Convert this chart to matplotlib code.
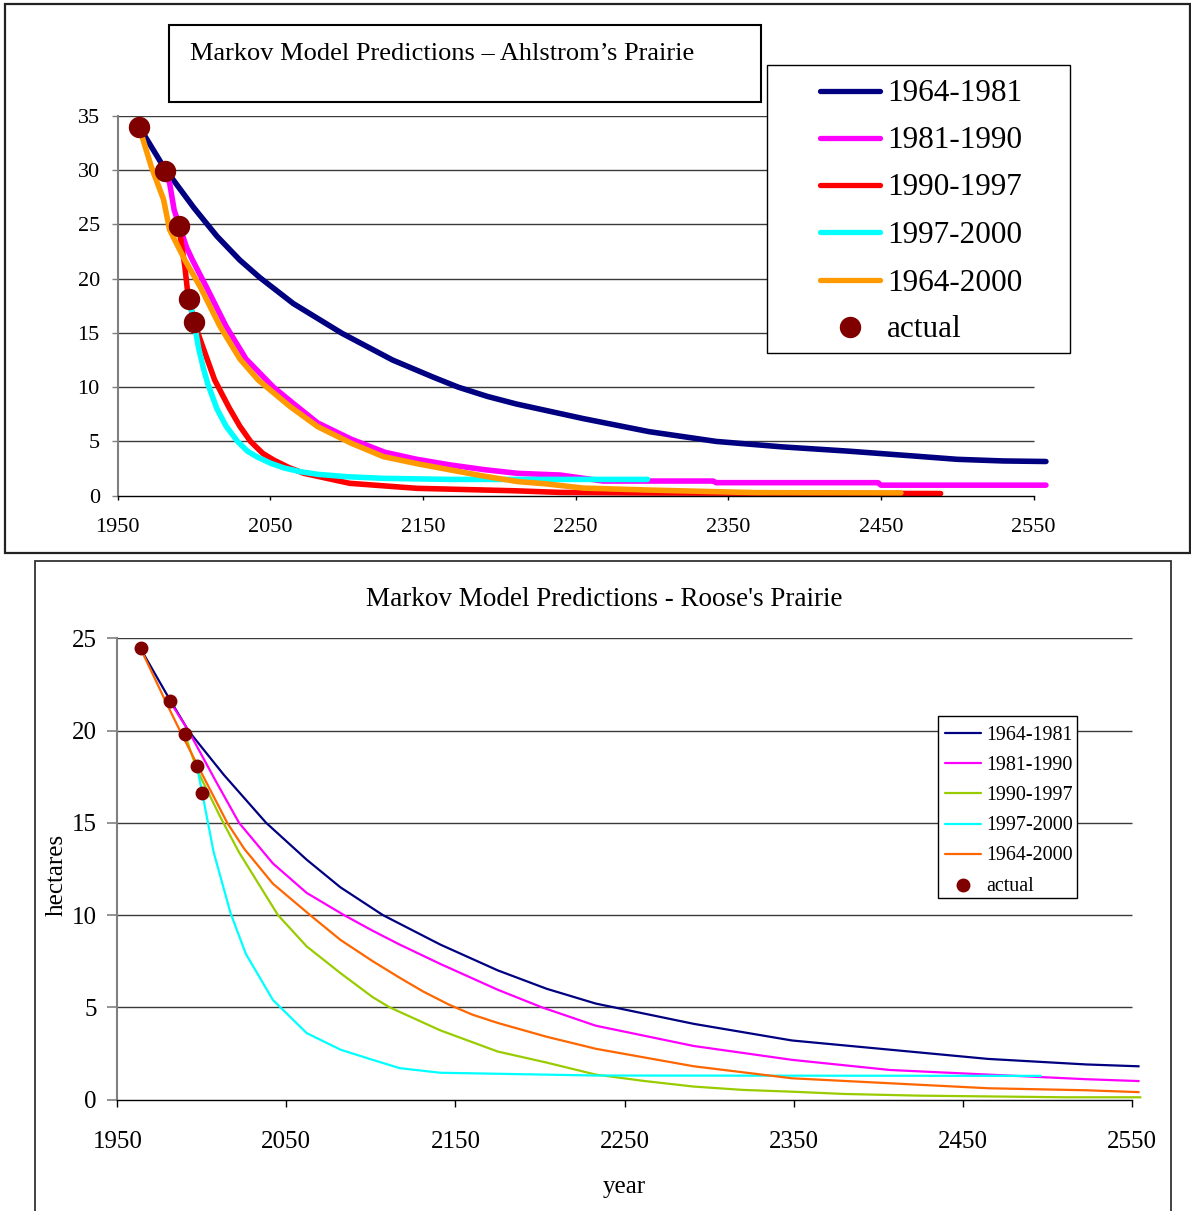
import matplotlib.pyplot as plt
from matplotlib.patches import Rectangle
from matplotlib.lines import Line2D

# Ahlstrom's Prairie: hectares predicted by each transition period
a_series = ["1964-1981", "1981-1990", "1990-1997", "1997-2000", "1964-2000"]
a_colors = ["#000080", "#FF00FF", "#FF0000", "#00FFFF", "#FF9900"]

a_years_6481 = [1964, 1980, 1990, 2000, 2015, 2030, 2043, 2065, 2097, 2130, 2157, 2173,
                2192, 2211, 2255, 2298, 2342, 2385, 2429, 2472, 2500, 2530, 2558]
a_vals_6481 = [34.0, 30.3, 28.4, 26.5, 23.9, 21.7, 20.1, 17.7, 14.95, 12.5, 10.9, 10.0,
               9.15, 8.45, 7.1, 5.9, 5.0, 4.5, 4.1, 3.65, 3.35, 3.2, 3.15]

a_years_8190 = [1981, 1984, 1987, 1995, 1999, 2008, 2021, 2034, 2052, 2065, 2081, 2103,
                2125, 2146, 2168, 2190, 2212, 2240, 2268, 2340, 2342, 2448, 2450, 2558]
a_vals_8190 = [29.9, 28.8, 26.3, 22.9, 21.7, 19.25, 15.6, 12.6, 10.0, 8.5, 6.7, 5.2,
               4.0, 3.35, 2.83, 2.4, 2.06, 1.9, 1.35, 1.35, 1.2, 1.2, 0.97, 0.97]

a_years_9097 = [1990, 1994, 1996, 2000, 2006, 2013.5, 2023, 2030, 2037, 2045, 2052, 2062,
                2072, 2102, 2146, 2211, 2240, 2300, 2489]
a_vals_9097 = [24.8, 21.1, 18.5, 16.0, 13.6, 10.66, 8.1, 6.4, 5.0, 3.9, 3.3, 2.6,
               2.06, 1.14, 0.68, 0.45, 0.3, 0.25, 0.2]

a_years_9700 = [1997, 2000, 2003, 2006, 2009, 2015, 2021, 2028.5, 2035, 2041.6, 2050, 2059,
                2070, 2081, 2100, 2124, 2168, 2297]
a_vals_9700 = [18.1, 16.0, 13.6, 11.8, 10.3, 8.0, 6.4, 5.0, 4.1, 3.55, 3.0, 2.55,
               2.2, 1.97, 1.75, 1.6, 1.5, 1.5]

a_years_6400 = [1964, 1972, 1980, 1984, 1994, 2004, 2017, 2030, 2042, 2063, 2081, 2103,
                2124, 2146, 2168, 2190, 2212, 2230, 2255, 2298, 2368, 2463]
a_vals_6400 = [34.0, 30.3, 27.3, 24.5, 21.7, 19.25, 15.6, 12.6, 10.66, 8.2, 6.36, 4.83,
               3.6, 2.95, 2.37, 1.8, 1.3, 1.1, 0.7, 0.52, 0.28, 0.25]

a_actual_years = [1964, 1981, 1990, 1997, 2000]
a_actual = [34.0, 29.9, 24.8, 18.1, 16.0]

# Roose's Prairie
r_series = ["1964-1981", "1981-1990", "1990-1997", "1997-2000", "1964-2000"]
r_colors = ["#000080", "#FF00FF", "#99CC00", "#00FFFF", "#FF6600"]

r_years_6481 = [1964, 1979, 1992, 2013, 2038, 2062, 2082, 2107, 2141, 2175, 2204, 2233,
                2291, 2349, 2407, 2465, 2523, 2554]
r_vals_6481 = [24.4, 22.0, 20.0, 17.6, 15.0, 13.0, 11.5, 10.0, 8.4, 7.0, 6.0, 5.2,
               4.1, 3.2, 2.7, 2.2, 1.9, 1.8]

r_years_8190 = [1981, 1992, 2008, 2022, 2042, 2062, 2084, 2101, 2117, 2141, 2175, 2201,
                2233, 2291, 2349, 2407, 2465, 2523, 2554]
r_vals_8190 = [21.6, 20.0, 17.3, 15.0, 12.8, 11.2, 10.0, 9.15, 8.4, 7.35, 5.95, 5.0,
               4.0, 2.9, 2.15, 1.6, 1.35, 1.1, 1.0]

r_years_9097 = [1990, 1997, 2011, 2022, 2045, 2062, 2082, 2101, 2111, 2141, 2175, 2204,
                2233, 2262, 2291, 2320, 2350, 2380, 2424, 2511, 2555]
r_vals_9097 = [19.8, 17.9, 15.3, 13.4, 10.0, 8.3, 6.85, 5.55, 5.0, 3.75, 2.6, 2.0,
               1.35, 1.0, 0.7, 0.52, 0.42, 0.3, 0.21, 0.12, 0.12]

r_years_9700 = [1997, 2001, 2007, 2017, 2026, 2042, 2062, 2082, 2101, 2117, 2141, 2233, 2496]
r_vals_9700 = [18.1, 16.25, 13.4, 10.1, 7.9, 5.4, 3.6, 2.7, 2.15, 1.7, 1.45, 1.3, 1.28]

r_years_6400 = [1964, 1979, 1987, 1997, 2015, 2025, 2042, 2064, 2082, 2101, 2117, 2131,
                2146, 2160, 2175, 2204, 2233, 2291, 2349, 2407, 2465, 2523, 2554]
r_vals_6400 = [24.4, 21.5, 20.0, 18.2, 15.0, 13.6, 11.7, 10.0, 8.65, 7.5, 6.6, 5.85,
               5.15, 4.6, 4.15, 3.4, 2.75, 1.8, 1.15, 0.88, 0.61, 0.5, 0.4]

r_actual_years = [1964, 1981, 1990, 1997, 2000]
r_actual = [24.5, 21.6, 19.8, 18.1, 16.6]

x_ticks = list(range(1950, 2551, 100))
actual_color = "#800000"

W, H = 1191, 1211
plt.rcParams['font.family'] = ['Liberation Serif', 'DejaVu Serif']
fig = plt.figure(figsize=(W / 100, H / 100), dpi=100)


def fx(x):
    return x / W


def fy(y):
    return 1 - y / H


def box(x0, y0, x1, y1, lw=1.0, color='black', face='none'):
    fig.add_artist(Rectangle((fx(x0), fy(y1)), (x1 - x0) / W, (y1 - y0) / H,
                             transform=fig.transFigure, facecolor=face,
                             edgecolor=color, lw=lw))


def pixel_legend(frame, hx, tx, rows, labels, colors, fs, lw, ms, text_shift):
    box(*frame, lw=1.0, face='white')
    for y, lab, col in zip(rows, labels, colors):
        fig.add_artist(Line2D([fx(hx[0]), fx(hx[1])], [fy(y), fy(y)], transform=fig.transFigure,
                              color=col, lw=lw, solid_capstyle='round'))
        fig.text(fx(tx), fy(y + text_shift), lab, fontsize=fs, va='center', ha='left')
    cx = (hx[0] + hx[1]) / 2
    fig.add_artist(Line2D([fx(cx)], [fy(rows[-1])], transform=fig.transFigure, marker='o',
                          ms=ms, color=actual_color, lw=0))
    fig.text(fx(tx), fy(rows[-1] + text_shift), "actual", fontsize=fs, va='center', ha='left')


def style_axes(ax, top, grid_color='#3a3a3a'):
    ax.set_facecolor('none')
    for s in ['top', 'right']:
        ax.spines[s].set_visible(False)
    ax.spines['left'].set_color('#808080')
    ax.spines['left'].set_linewidth(1.5)
    ax.spines['bottom'].set_bounds(1950, 2550)
    ax.spines['bottom'].set_linewidth(1.0)
    ax.hlines(range(5, top + 1, 5), 1950, 2550, color=grid_color, lw=1.0, zorder=0.5)
    ax.set_xticks(x_ticks)
    ax.set_yticks(range(0, top + 1, 5))


# ---------------- top chart ----------------
box(5, 4, 1190, 552.7, lw=1.6, color='#222222')
box(169.3, 25, 761, 101.7, lw=1.5)
fig.text(fx(190), fy(54), "Markov Model Predictions \u2013 Ahlstrom\u2019s Prairie",
         fontsize=19, va='center', ha='left')

ax1 = fig.add_axes([fx(117.7), fy(495.7), (1060 - 117.7) / W, 380 / H])
ax1.set_xlim(1950, 1950 + (1060 - 117.7) / 1.5267)
ax1.set_ylim(0, 35)
style_axes(ax1, 35)

a_data = [(a_years_6481, a_vals_6481), (a_years_8190, a_vals_8190), (a_years_9097, a_vals_9097),
          (a_years_9700, a_vals_9700), (a_years_6400, a_vals_6400)]
for (yrs, vals), col in zip(a_data, a_colors):
    ax1.plot(yrs, vals, color=col, lw=4, solid_capstyle='round', solid_joinstyle='round')
ax1.plot(a_actual_years, a_actual, 'o', color=actual_color, ms=14.4, zorder=5, clip_on=False)

ax1.tick_params(axis='y', length=4.3, width=1, color='#808080', pad=8.6, labelsize=16)
ax1.tick_params(axis='x', length=3.2, width=1, pad=12.8, labelsize=16)

pixel_legend((766.7, 65, 1070, 353.3), (820, 880), 887,
             [90.5, 138, 184.5, 232, 280, 327], a_series, a_colors, 22.5, 3.8, 14.4, 3)

# ---------------- bottom chart ----------------
box(35, 560.7, 1170.7, 1240, lw=1.3, color='#333333')
fig.text(fx(604), fy(599), "Markov Model Predictions - Roose's Prairie",
         fontsize=19.5, va='center', ha='center')

ax2 = fig.add_axes([fx(117.3), fy(1099.5), (1150 - 117.3) / W, 461.2 / H])
ax2.set_xlim(1950, 1950 + (1150 - 117.3) / 1.6907)
ax2.set_ylim(0, 25)
style_axes(ax2, 25)

r_data = [(r_years_6481, r_vals_6481), (r_years_8190, r_vals_8190), (r_years_9097, r_vals_9097),
          (r_years_9700, r_vals_9700), (r_years_6400, r_vals_6400)]
for (yrs, vals), col in zip(r_data, r_colors):
    ax2.plot(yrs, vals, color=col, lw=1.6)
ax2.plot(r_actual_years, r_actual, 'o', color=actual_color, ms=9, zorder=5, clip_on=False)

ax2.tick_params(axis='y', length=7.2, width=1.2, color='#808080', pad=7.6, labelsize=18)
ax2.tick_params(axis='x', length=5, width=1, pad=17.5, labelsize=18)

ax2.set_xlabel("year", fontsize=18, va='center')
ax2.xaxis.set_label_coords((624 - 117.3) / (1150 - 117.3), (1099.5 - 1187) / 461.2)
ax2.set_ylabel("hectares", fontsize=18, va='center')
ax2.yaxis.set_label_coords((57 - 117.3) / (1150 - 117.3), (1099.5 - 875) / 461.2)

pixel_legend((938.3, 716, 1077.3, 898.3), (945, 980.7), 986,
             [733.3, 763.3, 793.3, 824, 854, 884.5], r_series, r_colors, 14.4, 1.6, 9, 2)

fig.savefig("out.png", dpi=100)
